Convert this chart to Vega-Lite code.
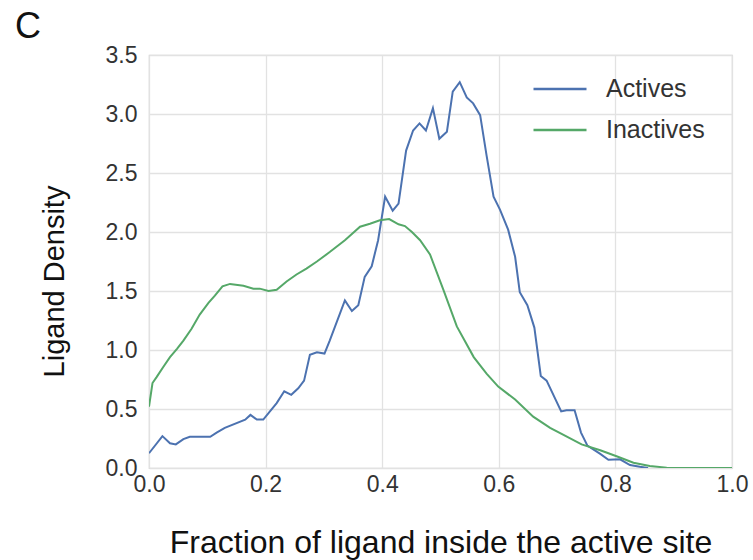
{
  "$schema": "https://vega.github.io/schema/vega-lite/v6.json",
  "width": 583,
  "height": 413,
  "autosize": "none",
  "padding": {"left": 149, "top": 55, "right": 21, "bottom": 92},
  "background": "white",
  "config": {
    "font": "Liberation Sans",
    "view": {"stroke": "#d4d4d4", "strokeWidth": 1.2},
    "axis": {"domain": false, "ticks": false, "grid": true, "gridColor": "#e2e2e2", "gridWidth": 1.3, "labelFont": "Liberation Sans", "titleFont": "Liberation Sans", "labelColor": "#333333", "titleColor": "#111111", "titleFontWeight": "normal"}
  },
  "title": {"text": "C", "anchor": "start", "frame": "group", "fontSize": 36, "fontWeight": "normal", "font": "Liberation Sans", "color": "#111111", "baseline": "alphabetic", "offset": 0, "dx": -134, "dy": 30},
  "data": {"values": [
    {"x": 0.0, "density": 0.125, "series": "Actives"},
    {"x": 0.023, "density": 0.27, "series": "Actives"},
    {"x": 0.036, "density": 0.21, "series": "Actives"},
    {"x": 0.046, "density": 0.2, "series": "Actives"},
    {"x": 0.059, "density": 0.245, "series": "Actives"},
    {"x": 0.07, "density": 0.265, "series": "Actives"},
    {"x": 0.105, "density": 0.265, "series": "Actives"},
    {"x": 0.116, "density": 0.3, "series": "Actives"},
    {"x": 0.13, "density": 0.34, "series": "Actives"},
    {"x": 0.165, "density": 0.41, "series": "Actives"},
    {"x": 0.174, "density": 0.45, "series": "Actives"},
    {"x": 0.185, "density": 0.41, "series": "Actives"},
    {"x": 0.196, "density": 0.41, "series": "Actives"},
    {"x": 0.219, "density": 0.55, "series": "Actives"},
    {"x": 0.232, "density": 0.65, "series": "Actives"},
    {"x": 0.244, "density": 0.62, "series": "Actives"},
    {"x": 0.256, "density": 0.675, "series": "Actives"},
    {"x": 0.266, "density": 0.74, "series": "Actives"},
    {"x": 0.276, "density": 0.96, "series": "Actives"},
    {"x": 0.288, "density": 0.98, "series": "Actives"},
    {"x": 0.301, "density": 0.97, "series": "Actives"},
    {"x": 0.31, "density": 1.08, "series": "Actives"},
    {"x": 0.336, "density": 1.42, "series": "Actives"},
    {"x": 0.348, "density": 1.33, "series": "Actives"},
    {"x": 0.359, "density": 1.38, "series": "Actives"},
    {"x": 0.37, "density": 1.62, "series": "Actives"},
    {"x": 0.382, "density": 1.71, "series": "Actives"},
    {"x": 0.393, "density": 1.93, "series": "Actives"},
    {"x": 0.405, "density": 2.3, "series": "Actives"},
    {"x": 0.418, "density": 2.18, "series": "Actives"},
    {"x": 0.428, "density": 2.24, "series": "Actives"},
    {"x": 0.441, "density": 2.69, "series": "Actives"},
    {"x": 0.453, "density": 2.86, "series": "Actives"},
    {"x": 0.464, "density": 2.92, "series": "Actives"},
    {"x": 0.475, "density": 2.86, "series": "Actives"},
    {"x": 0.487, "density": 3.05, "series": "Actives"},
    {"x": 0.498, "density": 2.79, "series": "Actives"},
    {"x": 0.511, "density": 2.85, "series": "Actives"},
    {"x": 0.521, "density": 3.19, "series": "Actives"},
    {"x": 0.533, "density": 3.27, "series": "Actives"},
    {"x": 0.545, "density": 3.14, "series": "Actives"},
    {"x": 0.556, "density": 3.09, "series": "Actives"},
    {"x": 0.568, "density": 2.99, "series": "Actives"},
    {"x": 0.579, "density": 2.65, "series": "Actives"},
    {"x": 0.591, "density": 2.3, "series": "Actives"},
    {"x": 0.602, "density": 2.19, "series": "Actives"},
    {"x": 0.616, "density": 2.02, "series": "Actives"},
    {"x": 0.628, "density": 1.79, "series": "Actives"},
    {"x": 0.636, "density": 1.49, "series": "Actives"},
    {"x": 0.649, "density": 1.38, "series": "Actives"},
    {"x": 0.661, "density": 1.19, "series": "Actives"},
    {"x": 0.672, "density": 0.78, "series": "Actives"},
    {"x": 0.682, "density": 0.74, "series": "Actives"},
    {"x": 0.707, "density": 0.48, "series": "Actives"},
    {"x": 0.716, "density": 0.49, "series": "Actives"},
    {"x": 0.73, "density": 0.49, "series": "Actives"},
    {"x": 0.741, "density": 0.3, "series": "Actives"},
    {"x": 0.752, "density": 0.19, "series": "Actives"},
    {"x": 0.774, "density": 0.12, "series": "Actives"},
    {"x": 0.788, "density": 0.07, "series": "Actives"},
    {"x": 0.808, "density": 0.074, "series": "Actives"},
    {"x": 0.825, "density": 0.025, "series": "Actives"},
    {"x": 0.842, "density": 0.01, "series": "Actives"},
    {"x": 0.856, "density": 0.0, "series": "Actives"},
    {"x": 0.0, "density": 0.52, "series": "Inactives"},
    {"x": 0.006, "density": 0.72, "series": "Inactives"},
    {"x": 0.013, "density": 0.77, "series": "Inactives"},
    {"x": 0.025, "density": 0.86, "series": "Inactives"},
    {"x": 0.036, "density": 0.94, "series": "Inactives"},
    {"x": 0.048, "density": 1.01, "series": "Inactives"},
    {"x": 0.059, "density": 1.08, "series": "Inactives"},
    {"x": 0.073, "density": 1.18, "series": "Inactives"},
    {"x": 0.087, "density": 1.3, "series": "Inactives"},
    {"x": 0.102, "density": 1.4, "series": "Inactives"},
    {"x": 0.113, "density": 1.46, "series": "Inactives"},
    {"x": 0.126, "density": 1.54, "series": "Inactives"},
    {"x": 0.139, "density": 1.56, "series": "Inactives"},
    {"x": 0.162, "density": 1.545, "series": "Inactives"},
    {"x": 0.179, "density": 1.52, "series": "Inactives"},
    {"x": 0.19, "density": 1.52, "series": "Inactives"},
    {"x": 0.205, "density": 1.5, "series": "Inactives"},
    {"x": 0.219, "density": 1.51, "series": "Inactives"},
    {"x": 0.236, "density": 1.58, "series": "Inactives"},
    {"x": 0.253, "density": 1.64, "series": "Inactives"},
    {"x": 0.27, "density": 1.69, "series": "Inactives"},
    {"x": 0.288, "density": 1.75, "series": "Inactives"},
    {"x": 0.31, "density": 1.83, "series": "Inactives"},
    {"x": 0.336, "density": 1.93, "series": "Inactives"},
    {"x": 0.362, "density": 2.045, "series": "Inactives"},
    {"x": 0.379, "density": 2.07, "series": "Inactives"},
    {"x": 0.396, "density": 2.1, "series": "Inactives"},
    {"x": 0.412, "density": 2.11, "series": "Inactives"},
    {"x": 0.428, "density": 2.065, "series": "Inactives"},
    {"x": 0.439, "density": 2.05, "series": "Inactives"},
    {"x": 0.451, "density": 2.0, "series": "Inactives"},
    {"x": 0.465, "density": 1.93, "series": "Inactives"},
    {"x": 0.482, "density": 1.81, "series": "Inactives"},
    {"x": 0.505, "density": 1.51, "series": "Inactives"},
    {"x": 0.528, "density": 1.2, "series": "Inactives"},
    {"x": 0.557, "density": 0.94, "series": "Inactives"},
    {"x": 0.579, "density": 0.8, "series": "Inactives"},
    {"x": 0.599, "density": 0.69, "series": "Inactives"},
    {"x": 0.628, "density": 0.58, "series": "Inactives"},
    {"x": 0.659, "density": 0.435, "series": "Inactives"},
    {"x": 0.688, "density": 0.34, "series": "Inactives"},
    {"x": 0.711, "density": 0.28, "series": "Inactives"},
    {"x": 0.742, "density": 0.2, "series": "Inactives"},
    {"x": 0.774, "density": 0.15, "series": "Inactives"},
    {"x": 0.802, "density": 0.1, "series": "Inactives"},
    {"x": 0.831, "density": 0.045, "series": "Inactives"},
    {"x": 0.859, "density": 0.017, "series": "Inactives"},
    {"x": 0.888, "density": 0.003, "series": "Inactives"},
    {"x": 0.916, "density": 0.0, "series": "Inactives"},
    {"x": 1.0, "density": 0.0, "series": "Inactives"}
  ]},
  "mark": {"type": "line", "strokeWidth": 2, "clip": true},
  "encoding": {
    "x": {"field": "x", "type": "quantitative", "scale": {"domain": [0, 1], "nice": false, "zero": false},
      "axis": {"title": "Fraction of ligand inside the active site", "values": [0, 0.2, 0.4, 0.6, 0.8, 1.0], "format": ".1f", "labelFontSize": 23, "labelPadding": 5, "titleFontSize": 32, "titlePadding": 31, "labelFlush": false}},
    "y": {"field": "density", "type": "quantitative", "scale": {"domain": [0, 3.5], "nice": false},
      "axis": {"title": "Ligand Density", "values": [0, 0.5, 1, 1.5, 2, 2.5, 3, 3.5], "format": ".1f", "labelFontSize": 23, "labelPadding": 12, "titleFontSize": 29, "titlePadding": 36, "titleY": 226}},
    "color": {"field": "series", "type": "nominal", "scale": {"domain": ["Actives", "Inactives"], "range": ["#4c72b0", "#55a868"]},
      "legend": {"title": null, "orient": "none", "legendX": 383, "legendY": 6, "symbolType": "stroke", "symbolSize": 2809, "symbolStrokeWidth": 2.5, "labelFontSize": 25, "labelColor": "#333333", "labelOffset": 18, "rowPadding": -22}}
  }
}
